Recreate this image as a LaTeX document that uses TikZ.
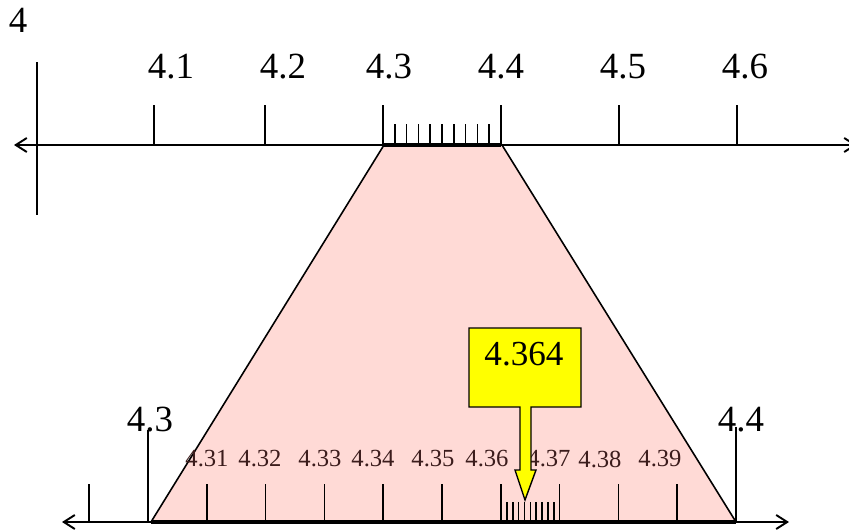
\documentclass[tikz,border=0pt]{standalone}
\usepackage{fontspec}
\setmainfont{Liberation Serif}
\usepackage{tikz}
\usetikzlibrary{arrows.meta}
\definecolor{ZoomPink}{HTML}{FFDAD6}
\definecolor{CallYellow}{HTML}{FFFF00}
\definecolor{SmallBrown}{HTML}{3B1C1C}

\begin{document}
\begin{tikzpicture}[x=0.02cm,y=-0.02cm,
  axisline/.style={line width=1.1pt,{Straight Barb[length=2.2mm,width=2.8mm]}-{Straight Barb[length=2.2mm,width=2.8mm]}},
  majortick/.style={line width=1pt},
  biglabel/.style={font=\fontsize{21}{25}\selectfont,inner sep=0pt},
  smalllabel/.style={font=\fontsize{14}{17}\selectfont,text=SmallBrown,inner sep=0pt}
]
\useasboundingbox (0,0) rectangle (849,531);
% zoomed interval
\fill[ZoomPink] (384,145) -- (502,145) -- (736,522) -- (151,522) -- cycle;
\draw[line width=0.9pt] (384,145) -- (151,522);
\draw[line width=0.9pt] (502,145) -- (736,522);
% upper number line
\draw[axisline] (14,145) -- (857,145);
\draw[majortick] (37,62) -- (37,215);
\node (n4) at (18,20) [biglabel] {4};
\foreach \i/\x/\lx in {1/154/171,2/265/283,3/383/389,4/501/501,5/619/623,6/737/745} {
  \draw[majortick] (\x,105) -- (\x,145);
  \node (up\i) at (\lx,67) [biglabel] {4.\i};
}
\foreach \k in {1,...,9}
  \draw[majortick] ({383+11.8*\k},124) -- ({383+11.8*\k},145);
\draw[line width=2.2pt] (383,145) -- (501,145);
% lower number line
\draw[axisline] (62,522) -- (789,522);
\draw[line width=2pt] (151,522) -- (736,522);
\draw[majortick] (148,430) -- (148,522);
\draw[majortick] (736,427) -- (736,522);
\draw[majortick] (89,484) -- (89,522);
\node (low3) at (150,420) [biglabel] {4.3};
\node (low4) at (741,420) [biglabel] {4.4};
\foreach \k/\lx in {1/207,2/260,3/320,4/373,5/433,6/487,7/549,8/600,9/660} {
  \draw[majortick] ({148+58.8*\k},484) -- ({148+58.8*\k},522);
  \node (low3\k) at (\lx,459) [smalllabel] {4.3\k};
}
\foreach \k in {1,...,9}
  \draw[line width=0.9pt] ({501+5.88*\k},502) -- ({501+5.88*\k},522);
% callout
\filldraw[fill=CallYellow,draw=black,line width=0.8pt]
  (469,328) -- (581,328) -- (581,407) -- (531,407) -- (531,470) -- (536,470)
  -- (525,500) -- (515,470) -- (520,470) -- (520,407) -- (469,407) -- cycle;
\node (val) at (524,354) [biglabel,font=\fontsize{20}{24}\selectfont] {4.364};
\end{tikzpicture}
\end{document}
